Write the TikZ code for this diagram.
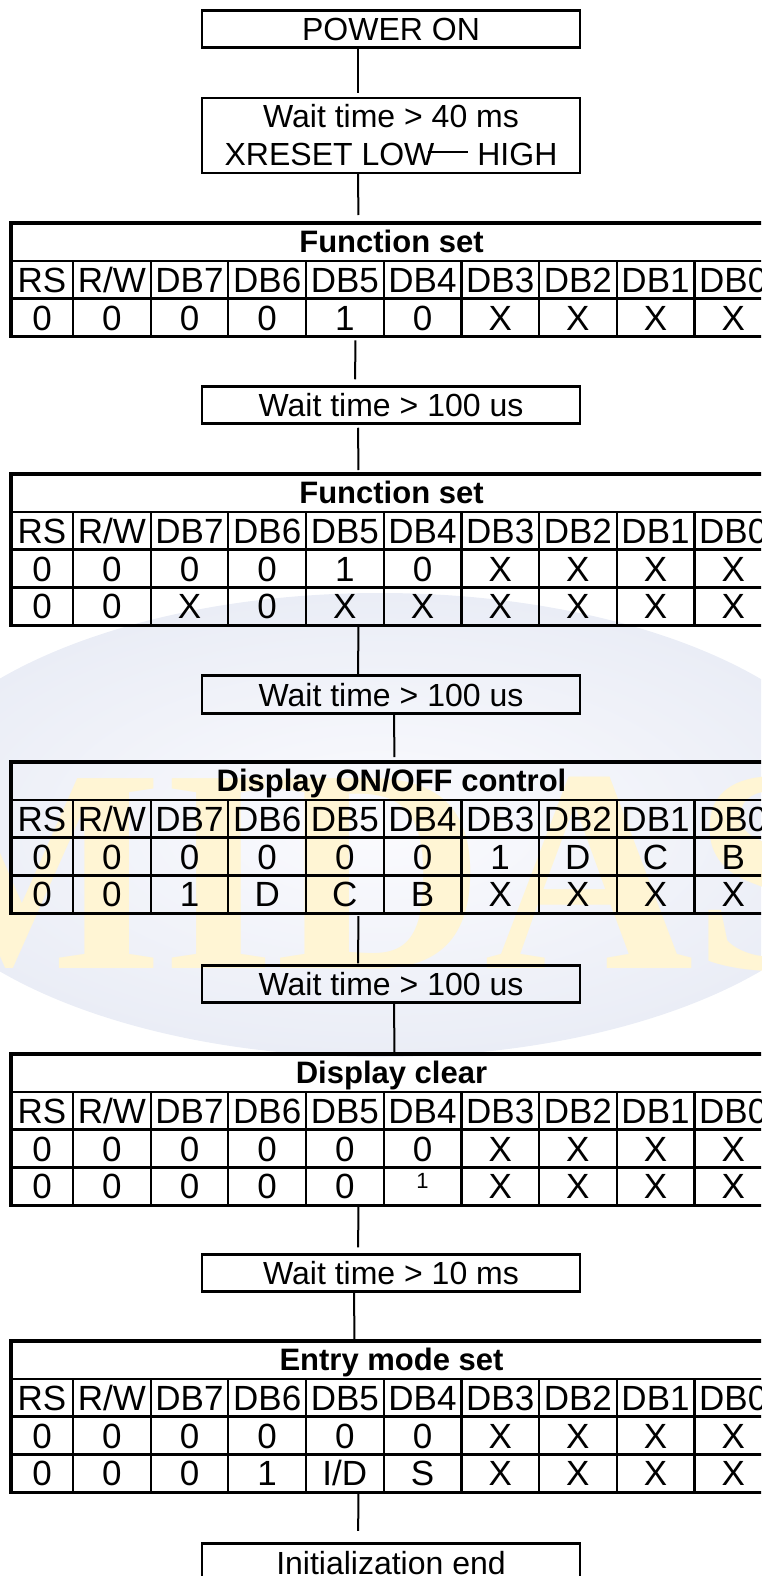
\documentclass[tikz,border=0pt]{standalone}
\usepackage{fontspec}
\setmainfont{Liberation Sans}
\newfontfamily\wmfont{Liberation Serif}

\definecolor{wmyellow}{RGB}{255,245,212}
\definecolor{wmblue}{RGB}{234,237,246}
\definecolor{wmlight}{RGB}{251,251,254}

\tikzset{
  waitbox/.style={draw, line width=2.7pt, minimum width=378pt, minimum height=37.5pt,
    inner sep=2pt, outer sep=0pt, font=\fontsize{32}{38}\selectfont, align=center},
  oneline/.style={text height=23pt, text depth=0pt},
  tabframe/.style={draw, line width=3.2pt, minimum width=761pt, inner sep=0pt, outer sep=0pt},
  cellline/.style={line width=2.3pt},
  celltext/.style={inner sep=0pt, font=\fontsize{35}{35}\selectfont, text height=25pt, text depth=0pt},
  titletext/.style={inner sep=0pt, font=\bfseries\fontsize{31}{31}\selectfont, text height=22pt, text depth=0pt},
  link/.style={line width=2pt}
}

% the raised small one of the display clear table
\newcommand{\smallone}{\raisebox{10pt}{\fontsize{22}{22}\selectfont 1}}

% bit table: #1 name, #2 top edge, #3 rows under the title, #4 title, #5 data rows
\newcommand{\bittable}[5]{%
  \node[tabframe, minimum height={(#3+1)*37.8pt}] (#1) at (391.5,{#2+(#3+1)*18.9}) {};
  \node[titletext] (#1-title) at (391.5,{#2+18.9}) {#4};
  \foreach \k in {1,...,#3}
    \draw[cellline] (11,{#2+37.8*\k}) -- (772,{#2+37.8*\k});
  \foreach \i in {0,...,8}
    \draw[cellline] ({73+77.67*\i},{#2+37.8}) -- ({73+77.67*\i},{#2+37.8*(#3+1)});
  \foreach \r [count=\k] in {{RS,R/W,DB7,DB6,DB5,DB4,DB3,DB2,DB1,DB0},#5} {
    \foreach \t [count=\i] in \r {
      \pgfmathsetmacro\cx{\i==1 ? 42 : 73+77.67*(\i-1.5)}
      \node[celltext] (#1-\k-\i) at (\cx,{#2+37.8*\k+18.9}) {\t};
    }
  }
}

\begin{document}
\begin{tikzpicture}[x=1pt, y=-1pt]
  \useasboundingbox (0,0) rectangle (761,1576);
  \clip (0,0) rectangle (761,1576);

  % Watermark behind the middle part
  \shade[inner color=wmlight, outer color=wmblue] (380,825) ellipse [x radius=490pt, y radius=232pt];
  \node[font=\wmfont\bfseries\fontsize{290}{290}\selectfont, text=wmyellow, anchor=base, inner sep=0pt] (wm) at (372,968) {MIDAS};

  % Flow boxes
  \node[waitbox, oneline] (pwr) at (391,29) {POWER ON};
  \node[waitbox, minimum height=75pt] (wait1) at (391,135.5) {Wait time > 40 ms\\XRESET LOW\kern-6pt\rule[13pt]{40pt}{2pt}\ HIGH};
  \node[waitbox, oneline] (wait2) at (391,405) {Wait time > 100 us};
  \node[waitbox, oneline] (wait3) at (391,694.5) {Wait time > 100 us};
  \node[waitbox, oneline] (wait4) at (391,984) {Wait time > 100 us};
  \node[waitbox, oneline] (wait5) at (391,1273) {Wait time > 10 ms};
  \node[waitbox, oneline] (initend) at (391,1562.5) {Initialization end};

  % Command tables
  \bittable{fset1}{223}{2}{Function set}{{0,0,0,0,1,0,X,X,X,X}}
  \bittable{fset2}{474}{3}{Function set}{{0,0,0,0,1,0,X,X,X,X},{0,0,X,0,X,X,X,X,X,X}}
  \bittable{dctrl}{762}{3}{Display ON/OFF control}{{0,0,0,0,0,0,1,D,C,B},{0,0,1,D,C,B,X,X,X,X}}
  \bittable{dclr}{1054}{3}{Display clear}{{0,0,0,0,0,0,X,X,X,X},{0,0,0,0,0,\smallone,X,X,X,X}}
  \bittable{emode}{1341}{3}{Entry mode set}{{0,0,0,0,0,0,X,X,X,X},{0,0,0,1,I/D,S,X,X,X,X}}

  % Connectors
  \draw[link, shorten >=5pt] ([xshift=-33pt]pwr.south) -- ([xshift=-33pt]wait1.north);
  \draw[link, shorten >=8pt] ([xshift=-33pt]wait1.south) -- ([xshift=-33pt]fset1.north);
  \draw[link, shorten <=4pt, shorten >=7pt] ([xshift=-36pt]fset1.south) -- ([xshift=-36pt]wait2.north);
  \draw[link, shorten <=4pt, shorten >=4pt] ([xshift=-33pt]wait2.south) -- ([xshift=-33pt]fset2.north);
  \draw[link, shorten >=2pt] ([xshift=-33pt]fset2.south) -- ([xshift=-33pt]wait3.north);
  \draw[link, shorten >=5pt] ([xshift=3pt]wait3.south) -- ([xshift=3pt]dctrl.north);
  \draw[link, shorten <=3pt, shorten >=2pt] ([xshift=-33pt]dctrl.south) -- ([xshift=-33pt]wait4.north);
  \draw[link] ([xshift=3pt]wait4.south) -- ([xshift=3pt]dclr.north);
  \draw[link, shorten <=2pt, shorten >=7pt] ([xshift=-33pt]dclr.south) -- ([xshift=-33pt]wait5.north);
  \draw[link] ([xshift=-37pt]wait5.south) -- ([xshift=-37pt]emode.north);
  \draw[link, shorten <=2pt, shorten >=13pt] ([xshift=-33pt]emode.south) -- ([xshift=-33pt]initend.north);
\end{tikzpicture}
\end{document}
